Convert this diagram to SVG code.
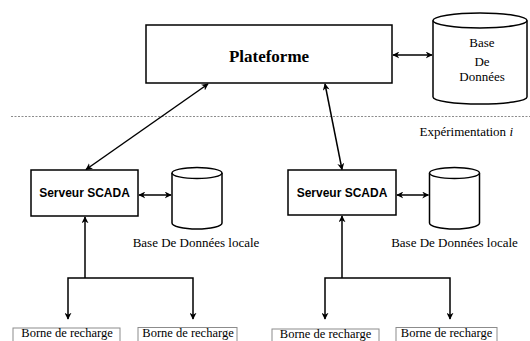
<svg xmlns="http://www.w3.org/2000/svg" width="530" height="341" viewBox="0 0 530 341">
  <defs>
    <marker id="ah" viewBox="0 0 10 10" refX="9" refY="5" markerWidth="7" markerHeight="7" markerUnits="userSpaceOnUse" orient="auto-start-reverse">
      <path d="M0,0 L10,5 L0,10 L3,5 z" fill="#000"/>
    </marker>
    <style>
      .box { fill: #fff; stroke: #000; stroke-width: 1.5; }
      .borne { fill: #fff; stroke: #8c8c8c; stroke-width: 1; }
      .cyl { fill: #fff; stroke: #000; stroke-width: 1.5; }
      .serif { font-family: "Liberation Serif", "Times New Roman", serif; fill: #000; }
      .sans { font-family: "Liberation Sans", Arial, sans-serif; fill: #000; }
      .link { fill: none; stroke: #000; stroke-width: 1.5; }
      .both { marker-start: url(#ah); marker-end: url(#ah); }
      .end { marker-end: url(#ah); }
    </style>
  </defs>

  <rect width="530" height="341" fill="#fff"/>

  <!-- experiment boundary -->
  <line x1="11" y1="116.5" x2="530" y2="116.5" stroke="#8c8c8c" stroke-width="1" stroke-dasharray="2,1.5"/>
  <text class="serif" x="513" y="136" font-size="13" text-anchor="end">Expérimentation <tspan font-style="italic">i</tspan></text>

  <g id="plateforme">
    <rect class="box" x="146" y="25" width="246" height="58"/>
    <text class="serif" x="269" y="62" font-size="17" font-weight="bold" text-anchor="middle">Plateforme</text>
  </g>

  <g id="base-donnees">
    <path class="cyl" d="M433,20.5 L433,97 A47,7 0 0 0 527,97 L527,20.5"/>
    <ellipse class="cyl" cx="480" cy="20.5" rx="47" ry="7.5"/>
    <text class="serif" x="482" y="47" font-size="13" text-anchor="middle">Base</text>
    <text class="serif" x="482" y="66" font-size="13" text-anchor="middle">De</text>
    <text class="serif" x="482" y="81" font-size="13" text-anchor="middle">Données</text>
  </g>

  <g id="scada-1">
    <rect class="box" x="31" y="170" width="107" height="46"/>
    <text class="sans" x="84.5" y="197" font-size="12" font-weight="bold" text-anchor="middle">Serveur SCADA</text>
  </g>

  <g id="bdd-locale-1">
    <path class="cyl" d="M172,173 L172,223 A25,6 0 0 0 222,223 L222,173"/>
    <ellipse class="cyl" cx="197" cy="173" rx="25" ry="5.5"/>
    <text class="serif" x="196" y="247" font-size="13" text-anchor="middle">Base De Données locale</text>
  </g>

  <g id="scada-2">
    <rect class="box" x="288" y="170" width="108" height="45"/>
    <text class="sans" x="342" y="197" font-size="12" font-weight="bold" text-anchor="middle">Serveur SCADA</text>
  </g>

  <g id="bdd-locale-2">
    <path class="cyl" d="M429.5,173 L429.5,223 A25,6 0 0 0 479.5,223 L479.5,173"/>
    <ellipse class="cyl" cx="454.5" cy="173" rx="25" ry="5.5"/>
    <text class="serif" x="454.5" y="247" font-size="13" text-anchor="middle">Base De Données locale</text>
  </g>

  <g id="borne-1">
    <rect class="borne" x="13" y="328" width="107" height="20"/>
    <text class="serif" x="67" y="337" font-size="12.5" text-anchor="middle">Borne de recharge</text>
  </g>
  <g id="borne-2">
    <rect class="borne" x="138" y="327.5" width="99" height="20"/>
    <text class="serif" x="188" y="336.5" font-size="12.5" text-anchor="middle">Borne de recharge</text>
  </g>
  <g id="borne-3">
    <rect class="borne" x="272" y="329" width="107" height="20"/>
    <text class="serif" x="325.5" y="338" font-size="12.5" text-anchor="middle">Borne de recharge</text>
  </g>
  <g id="borne-4">
    <rect class="borne" x="396" y="327.5" width="101" height="20"/>
    <text class="serif" x="446.5" y="336.5" font-size="12.5" text-anchor="middle">Borne de recharge</text>
  </g>

  <g id="connectors">
    <line class="link both" x1="393" y1="55" x2="432" y2="55"/>
    <line class="link both" x1="208" y1="84" x2="86" y2="169.5"/>
    <line class="link both" x1="325" y1="84" x2="342" y2="169.5"/>
    <line class="link both" x1="139" y1="195" x2="171" y2="195"/>
    <line class="link both" x1="397" y1="195" x2="428.5" y2="195"/>

    <!-- site 1 distribution -->
    <line class="link end" x1="85" y1="278" x2="85" y2="217"/>
    <polyline class="link end" points="85,278 68,278 68,319"/>
    <polyline class="link end" points="85,278 193,278 193,319"/>

    <!-- site 2 distribution -->
    <line class="link end" x1="342" y1="278" x2="342" y2="216"/>
    <polyline class="link end" points="342,278 325,278 325,319"/>
    <polyline class="link end" points="342,278 450,278 450,319"/>
  </g>
</svg>
